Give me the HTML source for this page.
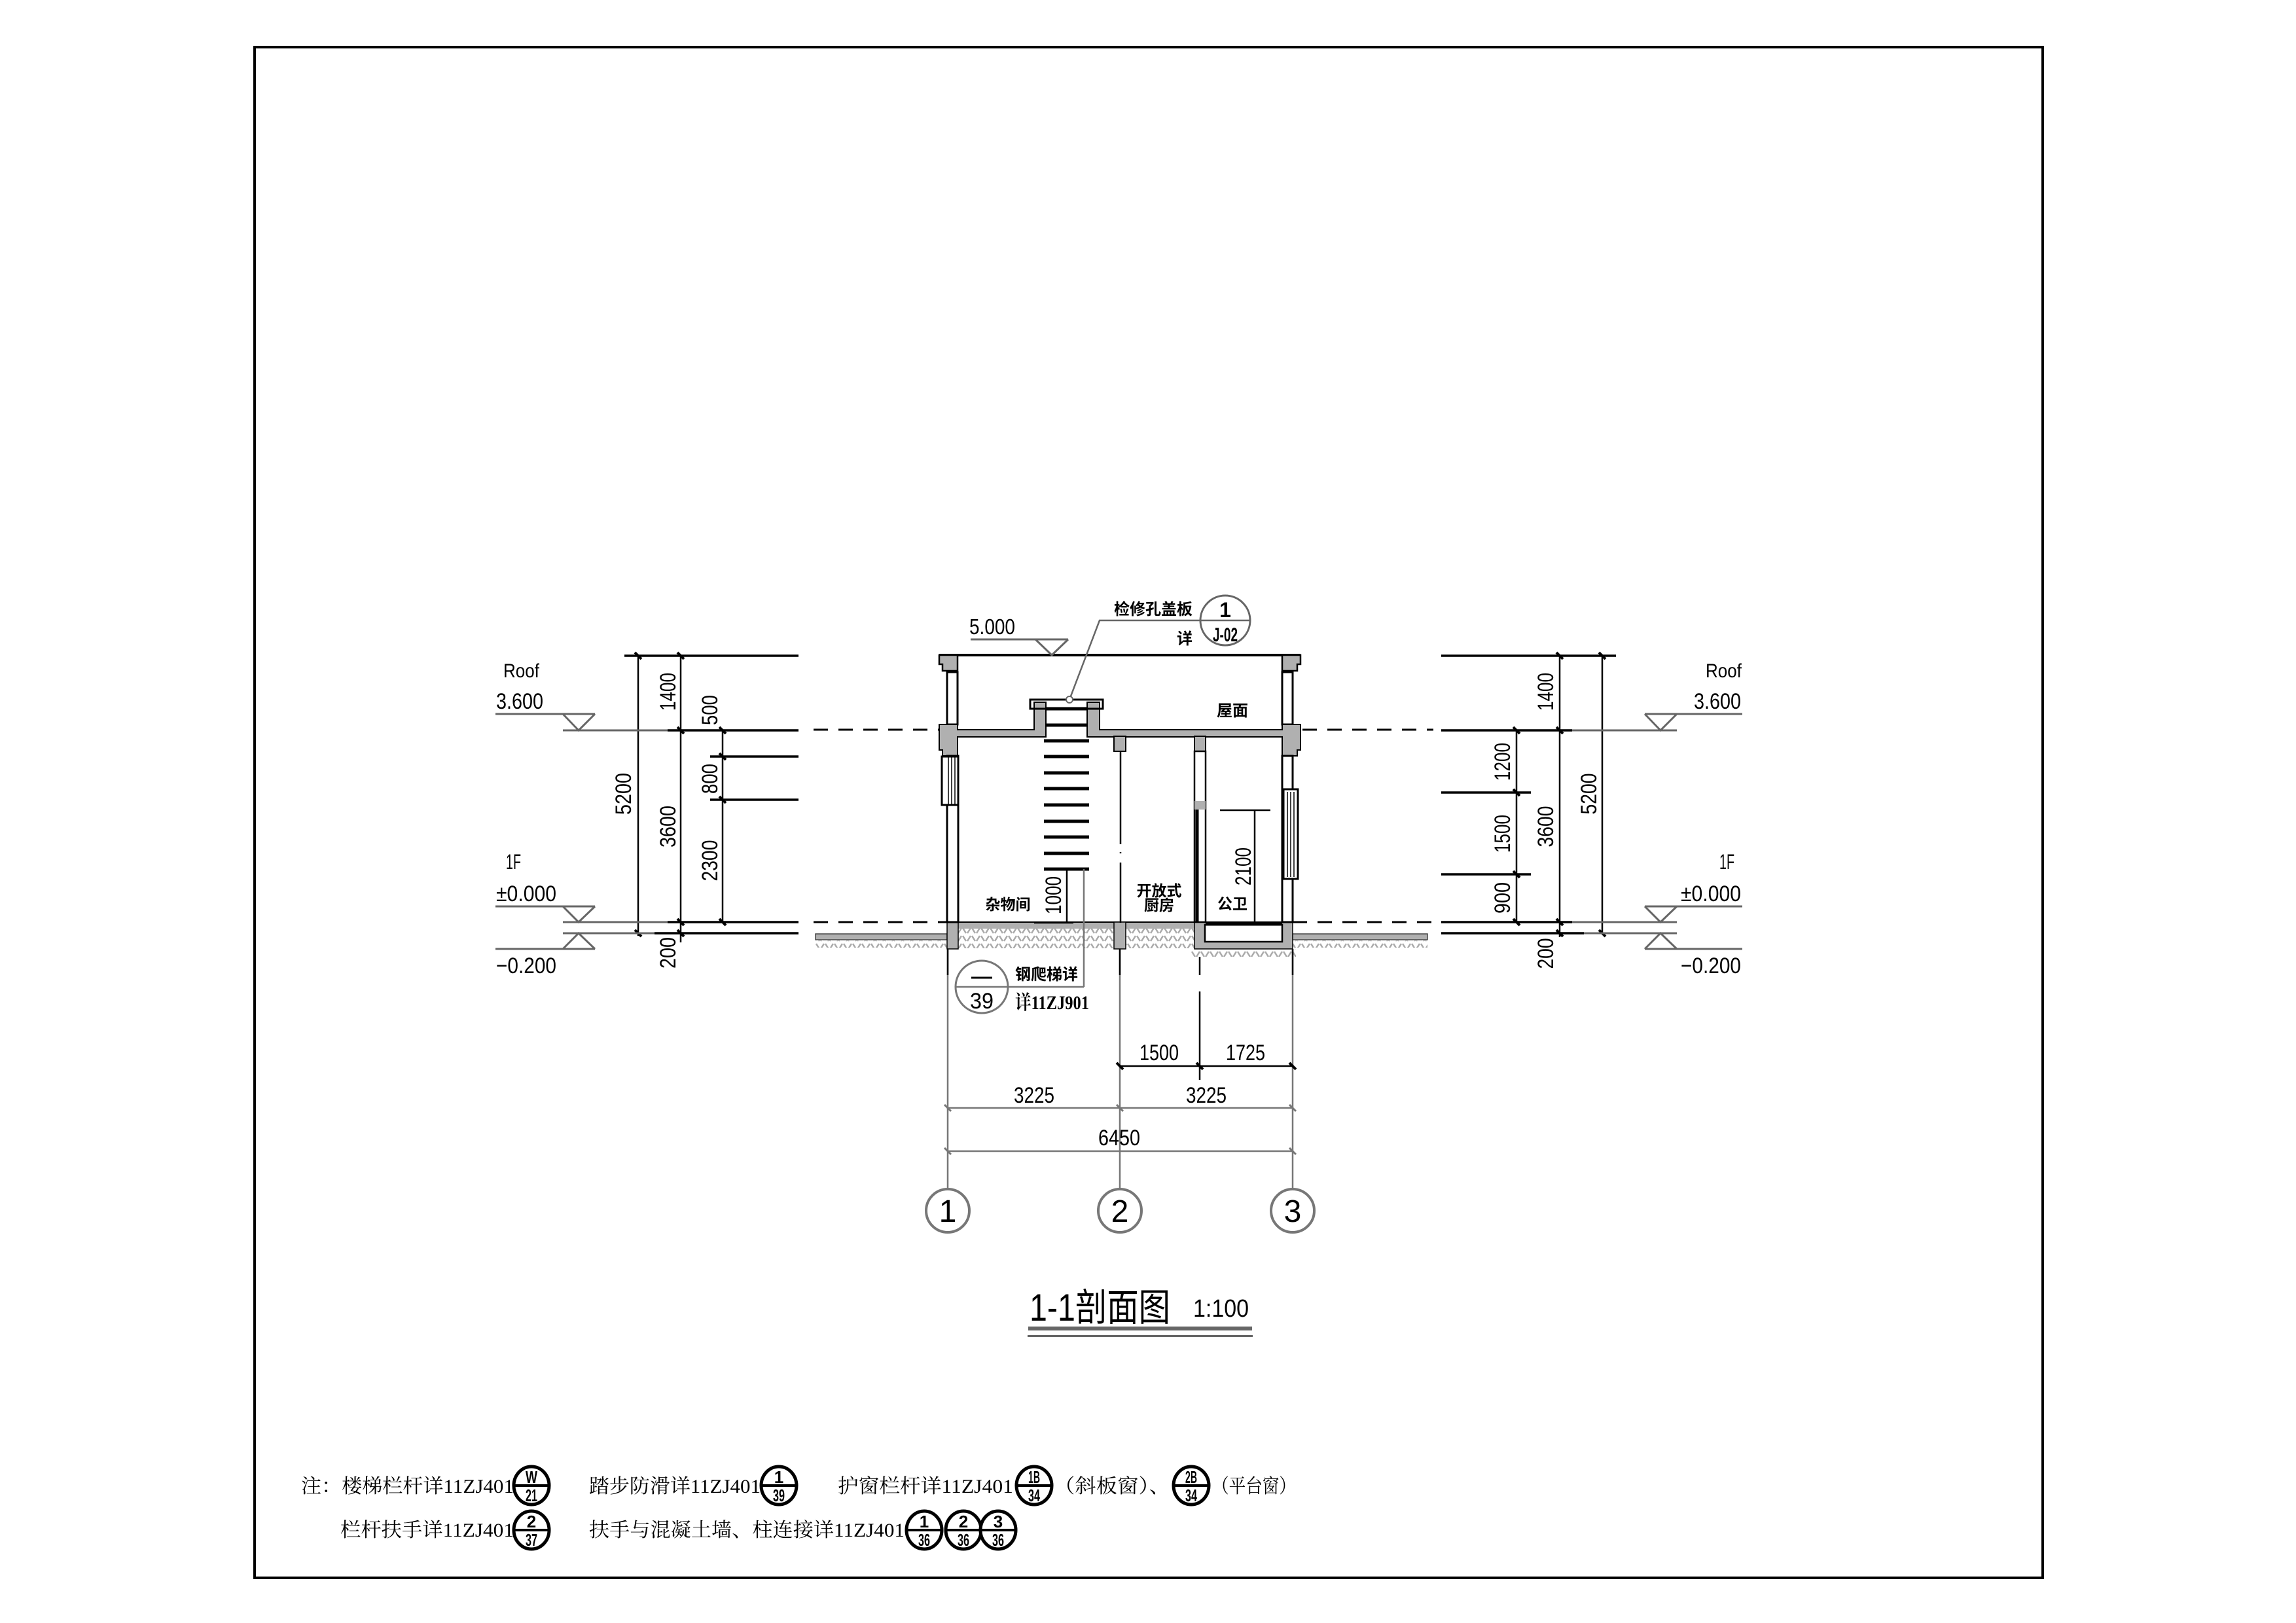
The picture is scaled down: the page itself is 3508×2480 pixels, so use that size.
<!DOCTYPE html>
<html><head><meta charset="utf-8"><style>
html,body{margin:0;padding:0;background:#fff;}
svg{display:block;}
.n{font-family:"Liberation Sans",sans-serif;fill:#000;}
.c{font-family:"Liberation Sans","Noto Sans CJK SC",sans-serif;font-weight:bold;fill:#000;}
.s{font-family:"Liberation Serif","Noto Serif CJK SC",serif;fill:#000;}
</style></head><body>
<svg width="3508" height="2480" viewBox="0 0 3508 2480" xmlns="http://www.w3.org/2000/svg">
<defs>
<pattern id="h" width="14" height="12" patternUnits="userSpaceOnUse">
<path d="M1 2 L6 10 M8 10 L13 2" stroke="#aaa" stroke-width="2.5" fill="none"/>
</pattern>
</defs>
<rect x="0" y="0" width="3508" height="2480" fill="#fff"/>
<rect x="389" y="72" width="2732" height="2339" fill="none" stroke="#000" stroke-width="4"/>

<rect x="1246" y="1427" width="201" height="9" fill="#b0b0b0" stroke="#444" stroke-width="1.5"/>
<rect x="1975" y="1427" width="206" height="9" fill="#b0b0b0" stroke="#444" stroke-width="1.5"/>
<rect x="1246" y="1436" width="201" height="12" fill="url(#h)"/>
<rect x="1975" y="1436" width="206" height="12" fill="url(#h)"/>
<rect x="1464" y="1419" width="238" height="30" fill="url(#h)"/>
<rect x="1720" y="1419" width="105" height="30" fill="url(#h)"/>
<rect x="1820" y="1450" width="160" height="12" fill="url(#h)"/>

<rect x="1447" y="1409" width="528" height="10" fill="#b0b0b0"/>
<line x1="1447" y1="1409" x2="1975" y2="1409" stroke="#000" stroke-width="2"/>
<rect x="1447" y="1409" width="17" height="41" fill="#b0b0b0" stroke="#000" stroke-width="1.5"/>
<rect x="1702" y="1409" width="18" height="41" fill="#b0b0b0" stroke="#000" stroke-width="1.5"/>
<rect x="1825" y="1409" width="150" height="41" fill="#b0b0b0" stroke="#000" stroke-width="1.5"/>
<rect x="1841" y="1413" width="118" height="26" fill="#fff" stroke="#000" stroke-width="2.5"/>
<line x1="1842" y1="1412" x2="1959" y2="1412" stroke="#000" stroke-width="5"/>

<line x1="1435" y1="1001" x2="1987" y2="1001" stroke="#000" stroke-width="4"/>
<path d="M1435 1001 H1463 V1025 H1440 V1015 H1435 Z" fill="#b0b0b0" stroke="#000" stroke-width="2.5"/>
<path d="M1987 1001 H1959 V1025 H1982 V1015 H1987 Z" fill="#b0b0b0" stroke="#000" stroke-width="2.5"/>
<rect x="1447" y="1027" width="16" height="80" fill="#fff" stroke="#000" stroke-width="3"/>
<rect x="1959" y="1027" width="16" height="80" fill="#fff" stroke="#000" stroke-width="3"/>
<path d="M1435 1107 H1463 V1115 H1580 V1073 H1598 V1126 H1463 V1155 H1440 V1146 H1435 Z" fill="#b0b0b0" stroke="#000" stroke-width="2"/>
<path d="M1661 1073 H1680 V1115 H1959 V1107 H1987 V1146 H1982 V1155 H1959 V1126 H1680 H1661 Z" fill="#b0b0b0" stroke="#000" stroke-width="2"/>
<rect x="1574" y="1069" width="111" height="14" fill="none" stroke="#000" stroke-width="3"/>
<rect x="1447" y="1155" width="17" height="254" fill="#fff" stroke="#000" stroke-width="3"/>
<rect x="1959" y="1155" width="16" height="254" fill="#fff" stroke="#000" stroke-width="3"/>
<rect x="1439" y="1156" width="25" height="74" fill="#fff" stroke="#000" stroke-width="3"/>
<path d="M1449 1156 V1230 M1454 1156 V1230 M1459 1156 V1230" stroke="#000" stroke-width="1.5"/>
<rect x="1961" y="1206" width="22" height="137" fill="#fff" stroke="#000" stroke-width="3"/>
<path d="M1967 1210 V1340 M1972 1210 V1340 M1977 1210 V1340" stroke="#000" stroke-width="1.5"/>
<rect x="1702" y="1125" width="18" height="23" fill="#b0b0b0" stroke="#000" stroke-width="2"/>
<rect x="1825" y="1125" width="17" height="23" fill="#b0b0b0" stroke="#000" stroke-width="2"/>
<path d="M1712 1148 V1290 M1712 1302 V1304 M1712 1318 V1410" stroke="#000" stroke-width="2.5"/>
<rect x="1825" y="1148" width="17" height="261" fill="none" stroke="#000" stroke-width="2.5"/>
<rect x="1825" y="1224" width="17" height="13" fill="#b0b0b0"/>
<line x1="1829" y1="1237" x2="1829" y2="1409" stroke="#000" stroke-width="5"/>
<g stroke="#000" stroke-width="5">
<line x1="1598" y1="1083" x2="1661" y2="1083"/><line x1="1598" y1="1108" x2="1661" y2="1108"/>
<line x1="1595" y1="1132" x2="1664" y2="1132"/><line x1="1595" y1="1156" x2="1664" y2="1156"/>
<line x1="1595" y1="1181" x2="1664" y2="1181"/><line x1="1595" y1="1205" x2="1664" y2="1205"/>
<line x1="1595" y1="1230" x2="1664" y2="1230"/><line x1="1595" y1="1255" x2="1664" y2="1255"/>
<line x1="1595" y1="1279" x2="1664" y2="1279"/><line x1="1595" y1="1304" x2="1664" y2="1304"/>
<line x1="1595" y1="1328" x2="1664" y2="1328"/>
</g>
<g stroke="#000" stroke-width="3" stroke-dasharray="22,16">
<line x1="1243" y1="1115" x2="1435" y2="1115"/><line x1="1243" y1="1409" x2="1447" y2="1409"/>
<line x1="1990" y1="1115" x2="2190" y2="1115"/><line x1="1975" y1="1409" x2="2190" y2="1409"/>
</g>

<line x1="1630" y1="1328" x2="1630" y2="1410" stroke="#000" stroke-width="2.5"/>
<line x1="1580" y1="1410" x2="1640" y2="1410" stroke="#000" stroke-width="2.5"/>
<text class="n" font-size="34" transform="translate(1621,1368) rotate(-90)" text-anchor="middle" textLength="58" lengthAdjust="spacingAndGlyphs">1000</text>
<line x1="1864" y1="1238" x2="1941" y2="1238" stroke="#000" stroke-width="2.5"/>
<line x1="1917" y1="1238" x2="1917" y2="1410" stroke="#000" stroke-width="2.5"/>
<text class="n" font-size="34" transform="translate(1911,1324) rotate(-90)" text-anchor="middle" textLength="58" lengthAdjust="spacingAndGlyphs">2100</text>

<text class="c" font-size="24" x="1883" y="1094" text-anchor="middle">屋面</text>
<text class="c" font-size="23" x="1540" y="1390" text-anchor="middle">杂物间</text>
<text class="c" font-size="23" x="1771" y="1369" text-anchor="middle">开放式</text>
<text class="c" font-size="23" x="1771" y="1391" text-anchor="middle">厨房</text>
<text class="c" font-size="23" x="1883" y="1389" text-anchor="middle">公卫</text>

<text class="n" font-size="33" x="1481" y="969" textLength="70" lengthAdjust="spacingAndGlyphs">5.000</text>
<line x1="1483" y1="977" x2="1632" y2="977" stroke="#666" stroke-width="3"/>
<polyline points="1582,977 1607,1001 1632,977" fill="none" stroke="#666" stroke-width="3"/>
<polyline points="1634,1069 1680,948 1909,948" fill="none" stroke="#666" stroke-width="2.5"/>
<circle cx="1634" cy="1069" r="5" fill="#fff" stroke="#666" stroke-width="2"/>
<circle cx="1872" cy="948" r="38" fill="none" stroke="#666" stroke-width="3"/>
<text class="c" font-size="24" x="1822" y="939" text-anchor="end">检修孔盖板</text>
<text class="c" font-size="24" x="1822" y="984" text-anchor="end">详</text>
<text class="c" font-size="32" x="1872" y="943" text-anchor="middle">1</text>
<text class="c" font-size="30" x="1872" y="980" text-anchor="middle" textLength="38" lengthAdjust="spacingAndGlyphs">J-02</text>

<g stroke="#000" stroke-width="3.5">
<line x1="954" y1="1002" x2="1220" y2="1002"/>
<line x1="1020" y1="1116" x2="1220" y2="1116"/>
<line x1="1085" y1="1156" x2="1220" y2="1156"/>
<line x1="1085" y1="1222" x2="1220" y2="1222"/>
<line x1="1020" y1="1409" x2="1220" y2="1409"/>
<line x1="1000" y1="1426" x2="1220" y2="1426"/>
</g>
<g stroke="#000" stroke-width="2.5">
<line x1="975" y1="1002" x2="975" y2="1430"/>
<line x1="1040" y1="1002" x2="1040" y2="1440"/>
<line x1="1104" y1="1116" x2="1104" y2="1409"/>
</g>
<g stroke="#000" stroke-width="4">
<path d="M970 997 l10 10 M970 1421 l10 10 M1035 997 l10 10 M1035 1111 l10 10 M1035 1404 l10 10 M1035 1421 l10 10 M1099 1111 l10 10 M1099 1151 l10 10 M1099 1217 l10 10 M1099 1404 l10 10"/>
</g>
<g class="n" font-size="34">
<text transform="translate(1032,1057) rotate(-90)" text-anchor="middle" textLength="58" lengthAdjust="spacingAndGlyphs">1400</text>
<text transform="translate(964,1213) rotate(-90)" text-anchor="middle" textLength="64" lengthAdjust="spacingAndGlyphs">5200</text>
<text transform="translate(1032,1263) rotate(-90)" text-anchor="middle" textLength="64" lengthAdjust="spacingAndGlyphs">3600</text>
<text transform="translate(1096,1085) rotate(-90)" text-anchor="middle" textLength="46" lengthAdjust="spacingAndGlyphs">500</text>
<text transform="translate(1096,1190) rotate(-90)" text-anchor="middle" textLength="46" lengthAdjust="spacingAndGlyphs">800</text>
<text transform="translate(1096,1315) rotate(-90)" text-anchor="middle" textLength="63" lengthAdjust="spacingAndGlyphs">2300</text>
<text transform="translate(1032,1456) rotate(-90)" text-anchor="middle" textLength="48" lengthAdjust="spacingAndGlyphs">200</text>
</g>
<g stroke="#666" stroke-width="3" fill="none">
<line x1="757" y1="1091" x2="909" y2="1091"/><polyline points="860,1091 884,1116 909,1091"/><line x1="860" y1="1116" x2="1020" y2="1116"/>
<line x1="757" y1="1385" x2="909" y2="1385"/><polyline points="860,1385 884,1409 909,1385"/><line x1="860" y1="1409" x2="1020" y2="1409"/>
<line x1="860" y1="1426" x2="1000" y2="1426"/><polyline points="860,1450 884,1426 909,1450"/><line x1="757" y1="1450" x2="909" y2="1450"/>
</g>
<g class="n">
<text font-size="30" x="769" y="1035" textLength="55" lengthAdjust="spacingAndGlyphs">Roof</text>
<text font-size="34" x="758" y="1083" textLength="72" lengthAdjust="spacingAndGlyphs">3.600</text>
<text font-size="32" x="773" y="1328" textLength="23" lengthAdjust="spacingAndGlyphs">1F</text>
<text font-size="34" x="758" y="1377" textLength="92" lengthAdjust="spacingAndGlyphs">±0.000</text>
<text font-size="34" x="758" y="1487" textLength="92" lengthAdjust="spacingAndGlyphs">−0.200</text>
</g>

<g stroke="#000" stroke-width="3.5">
<line x1="2202" y1="1002" x2="2469" y2="1002"/>
<line x1="2202" y1="1116" x2="2402" y2="1116"/>
<line x1="2202" y1="1211" x2="2339" y2="1211"/>
<line x1="2202" y1="1336" x2="2339" y2="1336"/>
<line x1="2202" y1="1409" x2="2402" y2="1409"/>
<line x1="2202" y1="1426" x2="2420" y2="1426"/>
</g>
<g stroke="#000" stroke-width="2.5">
<line x1="2317" y1="1116" x2="2317" y2="1409"/>
<line x1="2383" y1="1002" x2="2383" y2="1432"/>
<line x1="2448" y1="1002" x2="2448" y2="1426"/>
</g>
<g stroke="#000" stroke-width="4">
<path d="M2312 1111 l10 10 M2312 1206 l10 10 M2312 1331 l10 10 M2312 1404 l10 10 M2378 997 l10 10 M2378 1111 l10 10 M2378 1404 l10 10 M2378 1421 l10 10 M2443 997 l10 10 M2443 1421 l10 10"/>
</g>
<g stroke="#666" stroke-width="3" fill="none">
<line x1="2402" y1="1116" x2="2562" y2="1116"/><line x1="2402" y1="1409" x2="2562" y2="1409"/><line x1="2420" y1="1426" x2="2562" y2="1426"/>
<line x1="2513" y1="1091" x2="2662" y2="1091"/><polyline points="2513,1091 2537,1116 2562,1091"/>
<line x1="2513" y1="1385" x2="2662" y2="1385"/><polyline points="2513,1385 2537,1409 2562,1385"/>
<line x1="2513" y1="1450" x2="2662" y2="1450"/><polyline points="2513,1450 2537,1426 2562,1450"/>
</g>
<g class="n" font-size="34">
<text transform="translate(2373,1057) rotate(-90)" text-anchor="middle" textLength="58" lengthAdjust="spacingAndGlyphs">1400</text>
<text transform="translate(2307,1164) rotate(-90)" text-anchor="middle" textLength="58" lengthAdjust="spacingAndGlyphs">1200</text>
<text transform="translate(2307,1274) rotate(-90)" text-anchor="middle" textLength="58" lengthAdjust="spacingAndGlyphs">1500</text>
<text transform="translate(2307,1372) rotate(-90)" text-anchor="middle" textLength="48" lengthAdjust="spacingAndGlyphs">900</text>
<text transform="translate(2373,1263) rotate(-90)" text-anchor="middle" textLength="63" lengthAdjust="spacingAndGlyphs">3600</text>
<text transform="translate(2439,1213) rotate(-90)" text-anchor="middle" textLength="63" lengthAdjust="spacingAndGlyphs">5200</text>
<text transform="translate(2373,1457) rotate(-90)" text-anchor="middle" textLength="47" lengthAdjust="spacingAndGlyphs">200</text>
</g>
<g class="n" text-anchor="end">
<text font-size="30" x="2661" y="1035" textLength="55" lengthAdjust="spacingAndGlyphs">Roof</text>
<text font-size="34" x="2660" y="1083" textLength="72" lengthAdjust="spacingAndGlyphs">3.600</text>
<text font-size="32" x="2650" y="1328" textLength="23" lengthAdjust="spacingAndGlyphs">1F</text>
<text font-size="34" x="2660" y="1377" textLength="92" lengthAdjust="spacingAndGlyphs">±0.000</text>
<text font-size="34" x="2660" y="1487" textLength="92" lengthAdjust="spacingAndGlyphs">−0.200</text>
</g>

<g stroke="#777" stroke-width="2.5">
<line x1="1448" y1="1450" x2="1448" y2="1817"/>
<line x1="1711" y1="1450" x2="1711" y2="1817"/>
<line x1="1975" y1="1450" x2="1975" y2="1817"/>
<line x1="1448" y1="1693" x2="1975" y2="1693"/>
<line x1="1448" y1="1759" x2="1975" y2="1759"/>
</g>
<g stroke="#000" stroke-width="2.5">
<line x1="1448" y1="1450" x2="1448" y2="1490"/>
<line x1="1711" y1="1450" x2="1711" y2="1490"/>
<line x1="1975" y1="1450" x2="1975" y2="1490"/>
<line x1="1711" y1="1629" x2="1975" y2="1629"/>
<path d="M1833 1462 V1490 M1833 1515 V1650"/>
</g>
<g stroke="#000" stroke-width="4">
<path d="M1706 1624 l10 10 M1828 1624 l10 10 M1970 1624 l10 10"/>
</g>
<g stroke="#777" stroke-width="3">
<path d="M1443 1688 l10 10 M1706 1688 l10 10 M1970 1688 l10 10 M1443 1754 l10 10 M1970 1754 l10 10"/>
</g>
<g class="n" font-size="34" text-anchor="middle">
<text x="1771" y="1620" textLength="60" lengthAdjust="spacingAndGlyphs">1500</text>
<text x="1903" y="1620" textLength="60" lengthAdjust="spacingAndGlyphs">1725</text>
<text x="1580" y="1685" textLength="62" lengthAdjust="spacingAndGlyphs">3225</text>
<text x="1843" y="1685" textLength="62" lengthAdjust="spacingAndGlyphs">3225</text>
<text x="1710" y="1750" textLength="64" lengthAdjust="spacingAndGlyphs">6450</text>
</g>
<g fill="#fff" stroke="#777" stroke-width="4">
<circle cx="1448" cy="1850" r="33"/><circle cx="1711" cy="1850" r="33"/><circle cx="1975" cy="1850" r="33"/>
</g>
<g class="n" font-size="48" text-anchor="middle">
<text x="1448" y="1867">1</text><text x="1711" y="1867">2</text><text x="1975" y="1867">3</text>
</g>

<line x1="1656" y1="1328" x2="1656" y2="1508" stroke="#777" stroke-width="2.5"/>
<line x1="1460" y1="1508" x2="1656" y2="1508" stroke="#777" stroke-width="2.5"/>
<circle cx="1500" cy="1508" r="40" fill="none" stroke="#777" stroke-width="3"/>
<line x1="1484" y1="1494" x2="1516" y2="1494" stroke="#000" stroke-width="3"/>
<text class="n" font-size="34" x="1500" y="1541" text-anchor="middle" textLength="36" lengthAdjust="spacingAndGlyphs">39</text>
<text class="c" font-size="24" x="1551" y="1497">钢爬梯详</text>
<text class="s" font-size="30" x="1551" y="1542" textLength="113" lengthAdjust="spacingAndGlyphs" font-weight="bold">详11ZJ901</text>

<text font-family="Liberation Sans, Noto Sans CJK SC, sans-serif" font-size="58" x="1573" y="2018" textLength="215" lengthAdjust="spacingAndGlyphs">1-1剖面图</text>
<text class="n" font-size="38" x="1823" y="2012" textLength="85" lengthAdjust="spacingAndGlyphs">1:100</text>
<rect x="1571" y="2027" width="342" height="6" fill="#666"/>
<rect x="1570" y="2040" width="344" height="3" fill="#666"/>

<g class="s" font-size="30">
<text x="460" y="2281" textLength="325" lengthAdjust="spacingAndGlyphs">注：楼梯栏杆详11ZJ401</text>
<text x="900" y="2281" textLength="262" lengthAdjust="spacingAndGlyphs">踏步防滑详11ZJ401</text>
<text x="1280" y="2281" textLength="268" lengthAdjust="spacingAndGlyphs">护窗栏杆详11ZJ401</text>
<text x="1610" y="2281" textLength="178" lengthAdjust="spacingAndGlyphs">（斜板窗）、</text>
<text x="1852" y="2281" textLength="128" lengthAdjust="spacingAndGlyphs">（平台窗）</text>
<text x="520" y="2348" textLength="265" lengthAdjust="spacingAndGlyphs">栏杆扶手详11ZJ401</text>
<text x="900" y="2348" textLength="482" lengthAdjust="spacingAndGlyphs">扶手与混凝土墙、柱连接详11ZJ401</text>
</g>
<g stroke="#000" stroke-width="5" fill="#fff">
<ellipse cx="812" cy="2270" rx="27" ry="29"/><ellipse cx="1190" cy="2270" rx="27" ry="29"/>
<ellipse cx="1580" cy="2270" rx="27" ry="29"/><ellipse cx="1820" cy="2270" rx="27" ry="29"/>
<ellipse cx="812" cy="2338" rx="27" ry="29"/><ellipse cx="1412" cy="2338" rx="27" ry="29"/>
<ellipse cx="1472" cy="2338" rx="27" ry="29"/><ellipse cx="1525" cy="2338" rx="27" ry="29"/>
</g>
<g stroke="#000" stroke-width="4">
<line x1="785" y1="2270" x2="839" y2="2270"/><line x1="1163" y1="2270" x2="1217" y2="2270"/>
<line x1="1553" y1="2270" x2="1607" y2="2270"/><line x1="1793" y1="2270" x2="1847" y2="2270"/>
<line x1="785" y1="2338" x2="839" y2="2338"/><line x1="1385" y1="2338" x2="1439" y2="2338"/>
<line x1="1445" y1="2338" x2="1499" y2="2338"/><line x1="1498" y1="2338" x2="1552" y2="2338"/>
</g>
<g class="n" font-size="26" font-weight="bold" text-anchor="middle">
<text x="812" y="2266" textLength="18" lengthAdjust="spacingAndGlyphs">W</text><text x="812" y="2294" textLength="18" lengthAdjust="spacingAndGlyphs">21</text>
<text x="1190" y="2266">1</text><text x="1190" y="2294" textLength="18" lengthAdjust="spacingAndGlyphs">39</text>
<text x="1580" y="2266" textLength="18" lengthAdjust="spacingAndGlyphs">1B</text><text x="1580" y="2294" textLength="18" lengthAdjust="spacingAndGlyphs">34</text>
<text x="1820" y="2266" textLength="18" lengthAdjust="spacingAndGlyphs">2B</text><text x="1820" y="2294" textLength="18" lengthAdjust="spacingAndGlyphs">34</text>
<text x="812" y="2334">2</text><text x="812" y="2362" textLength="18" lengthAdjust="spacingAndGlyphs">37</text>
<text x="1412" y="2334">1</text><text x="1412" y="2362" textLength="18" lengthAdjust="spacingAndGlyphs">36</text>
<text x="1472" y="2334">2</text><text x="1472" y="2362" textLength="18" lengthAdjust="spacingAndGlyphs">36</text>
<text x="1525" y="2334">3</text><text x="1525" y="2362" textLength="18" lengthAdjust="spacingAndGlyphs">36</text>
</g>
</svg>
</body></html>
